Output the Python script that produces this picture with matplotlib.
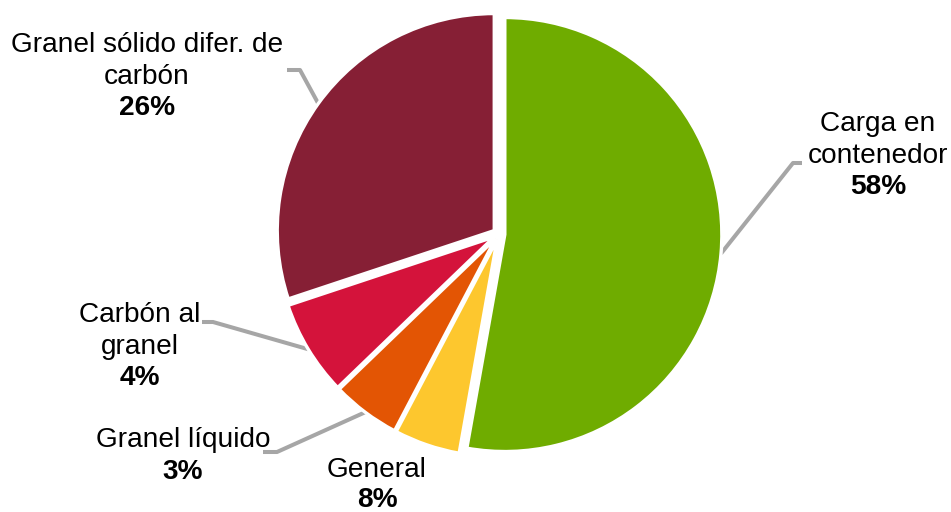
import matplotlib
matplotlib.use("Agg")
import matplotlib.pyplot as plt
import numpy as np

plt.rcParams['font.family'] = ['Liberation Sans', 'DejaVu Sans']

# slice sizes as drawn (degrees, in %)
categories = ["Carga en\ncontenedor", "General", "Granel líquido",
              "Carbón al\ngranel", "Granel sólido difer. de\ncarbón"]
values = [52.8, 4.9, 5.1, 7.1, 30.1]
pct_labels = ["58%", "8%", "3%", "4%", "26%"]
colors = ["#6FAC00", "#FDC72E", "#E35504", "#D4133B", "#861F35"]

W, H = 951, 512
CX, CY, R = 499, 234, 217  # pie centre / radius in pixels


def px(x, y):
    return (x - CX) / R, (CY - y) / R


fig = plt.figure(figsize=(W / 100, H / 100), dpi=100)
ax = fig.add_axes([0, 0, 1, 1])

explode = [0.027] * len(values)
wedges, _ = ax.pie(values, colors=colors, startangle=90, counterclock=False,
                   explode=explode, radius=1.0,
                   wedgeprops=dict(edgecolor="white", linewidth=2.4))

ax.set_xlim(-CX / R, (W - CX) / R)
ax.set_ylim(-(H - CY) / R, CY / R)
ax.set_aspect("equal")
ax.axis("off")

FS = 20.2
# label text centres (name block, pct) and leader elbows, in pixels
label_pos = [(878, 140, 187), (377, 470, 500), (183, 440, 472),
             (140, 331, 378), (147, 61, 108)]
elbows = [((793, 163), (802, 163)), None, ((277, 452), (263, 452)),
          ((213, 322), (202, 322)), ((300, 70), (287, 70))]

for w, name, pct, (lx, ly, py), elb, ex in zip(wedges, categories, pct_labels,
                                                label_pos, elbows, explode):
    tx, ty = px(lx, ly)
    ax.text(tx, ty, name, ha="center", va="center", fontsize=FS,
            linespacing=1.28, color="black")
    tx, ty = px(lx, py)
    ax.text(tx, ty, pct, ha="center", va="center", fontsize=FS,
            fontweight="bold", color="black")
    if elb is not None:
        mid = np.deg2rad((w.theta1 + w.theta2) / 2)
        sx, sy = (1 + ex) * np.cos(mid), (1 + ex) * np.sin(mid)
        e1 = px(*elb[0])
        e2 = px(*elb[1])
        ax.plot([sx, e1[0], e2[0]], [sy, e1[1], e2[1]], color="#A6A6A6",
                lw=2.9, solid_capstyle="butt", zorder=0)

fig.savefig("out.png", dpi=100)
